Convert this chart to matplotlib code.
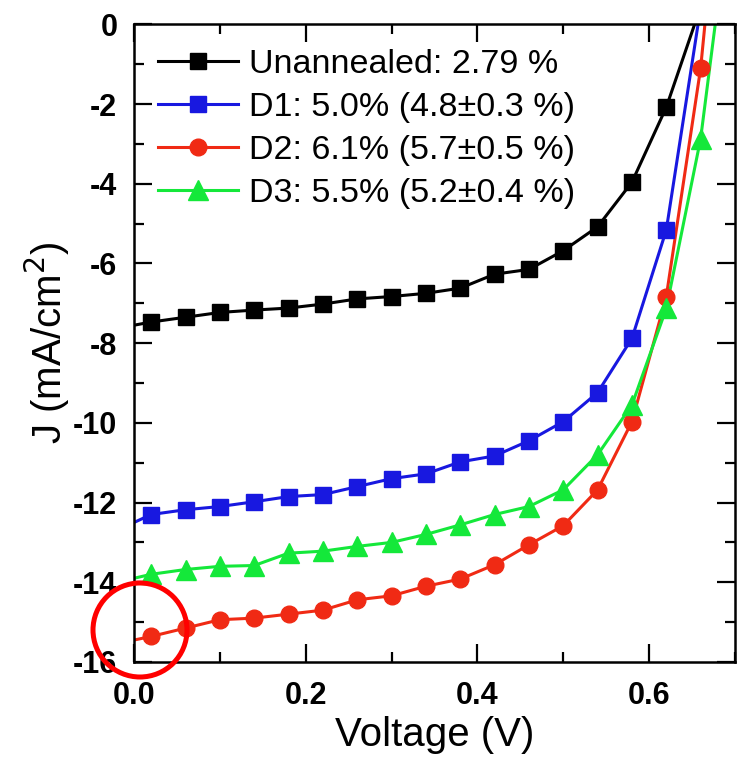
import matplotlib
matplotlib.use("Agg")
import matplotlib.pyplot as plt
from matplotlib.patches import Circle
from matplotlib.ticker import MultipleLocator

plt.rcParams['font.family'] = ['Liberation Sans', 'DejaVu Sans']
plt.rcParams['axes.unicode_minus'] = False

# measured J-V points (V, mA/cm2)
v_pts = [0.02, 0.06, 0.10, 0.14, 0.18, 0.22, 0.26, 0.30, 0.34, 0.38,
         0.42, 0.46, 0.50, 0.54, 0.58, 0.62, 0.66]

j_unann = [-7.47, -7.35, -7.23, -7.17, -7.12, -7.02, -6.89, -6.83, -6.75, -6.62,
           -6.27, -6.15, -5.68, -5.08, -3.96, -2.08]
j_d1 = [-12.30, -12.18, -12.10, -11.98, -11.85, -11.80, -11.60, -11.40, -11.28, -10.98,
        -10.83, -10.45, -9.97, -9.24, -7.88, -5.16]
j_d2 = [-15.36, -15.15, -14.94, -14.90, -14.80, -14.70, -14.44, -14.34, -14.10, -13.92,
        -13.56, -13.06, -12.58, -11.68, -9.97, -6.83, -1.10]
j_d3 = [-13.80, -13.68, -13.60, -13.58, -13.27, -13.22, -13.10, -13.00, -12.80, -12.56,
        -12.30, -12.10, -11.68, -10.80, -9.55, -7.13, -2.87]

# short-circuit current and open-circuit voltage of the fitted curves
jsc = [-7.55, -12.50, -15.45, -13.90]
voc = [0.653, 0.657, 0.665, 0.677]

labels = ['Unannealed: 2.79 %',
          'D1: 5.0% (4.8\u00b10.3 %)',
          'D2: 6.1% (5.7\u00b10.5 %)',
          'D3: 5.5% (5.2\u00b10.4 %)']
colors = ['black', '#1818e0', '#f02a14', '#14e83a']
markers = ['s', 's', 'o', '^']
msizes = [12, 12, 12, 14]


def main():
    fig = plt.figure(figsize=(7.38, 7.6), dpi=100)
    ax = fig.add_axes([0.1816, 0.129, 0.8143, 0.839])

    series = [j_unann, j_d1, j_d2, j_d3]
    for i, j in enumerate(series):
        v = v_pts[:len(j)]
        line_v = [0.0] + v + [voc[i]]
        line_j = [jsc[i]] + j + [0.0]
        ax.plot(line_v, line_j, color=colors[i], lw=2.2, zorder=2)
        ax.plot(v, j, ls='none', marker=markers[i], ms=msizes[i],
                color=colors[i], zorder=3)
        ax.plot([], [], color=colors[i], lw=2.2, marker=markers[i],
                ms=msizes[i], label=labels[i])

    ax.set_xlim(0, 0.7)
    ax.set_ylim(-16, 0)
    ax.xaxis.set_major_locator(MultipleLocator(0.2))
    ax.xaxis.set_minor_locator(MultipleLocator(0.1))
    ax.yaxis.set_major_locator(MultipleLocator(2))
    ax.yaxis.set_minor_locator(MultipleLocator(1))
    ax.set_xticks([0.0, 0.2, 0.4, 0.6])
    ax.set_xticklabels(['0.0', '0.2', '0.4', '0.6'])
    ax.tick_params(which='both', direction='in', top=True, right=True,
                   width=1.6, labelsize=22)
    ax.tick_params(which='major', length=13)
    ax.tick_params(which='minor', length=7)
    ax.tick_params(axis='x', pad=14)
    ax.tick_params(axis='y', pad=12)
    for lab in ax.get_xticklabels() + ax.get_yticklabels():
        lab.set_fontweight('bold')
    for s in ax.spines.values():
        s.set_linewidth(1.8)

    ax.set_xlabel('Voltage (V)', fontsize=29, labelpad=3)
    ax.set_ylabel('J (mA/cm$^2$)', fontsize=29, labelpad=1)

    ax.legend(loc='upper left', bbox_to_anchor=(0.04, 0.962), frameon=False,
              fontsize=24.5, borderpad=0, borderaxespad=0, labelspacing=0.36,
              handlelength=2.35, handletextpad=0.33)

    # red highlight circle around the -16 / 0.0 corner
    circ = Circle((1.40, 1.30), 0.47, transform=fig.dpi_scale_trans,
                  fill=False, edgecolor='red', lw=3.6, zorder=10)
    fig.add_artist(circ)

    fig.savefig('out.png', dpi=100)


if __name__ == '__main__':
    main()
